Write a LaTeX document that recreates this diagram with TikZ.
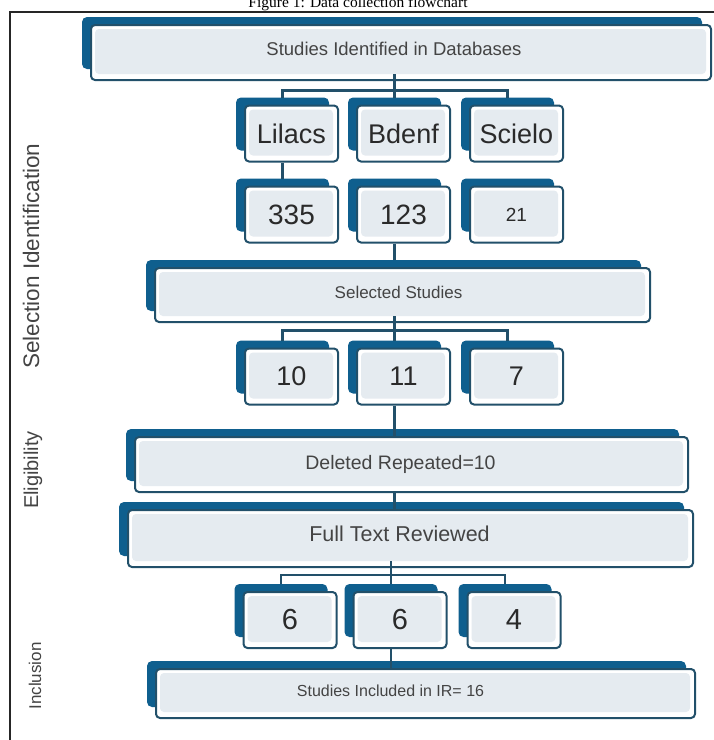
\documentclass[tikz,border=0pt]{standalone}
\usepackage{fontspec}
\setmainfont{Liberation Sans}
\newfontfamily\titlefont{Liberation Serif}
\usetikzlibrary{backgrounds}
\definecolor{backc}{HTML}{0F5F8E}
\definecolor{outl}{HTML}{22506A}
\definecolor{innerc}{HTML}{E5EBF0}
\definecolor{txt}{HTML}{2A2A2A}
\definecolor{ltxt}{HTML}{444444}
\definecolor{connc}{HTML}{22506A}
\newcommand\backof[1]{\fill[backc, rounded corners=5pt] ([shift={(-8,-7)}]#1.north west) rectangle ([shift={(-10,-12)}]#1.south east);}
\begin{document}
\begin{tikzpicture}[x=1pt,y=-1pt,
  front/.style={draw=outl, line width=2pt, fill=white, rounded corners=4pt, inner sep=0pt, text=txt,
    path picture={\fill[innerc] ([shift={(4,4)}]path picture bounding box.north west) rectangle ([shift={(-5,-6)}]path picture bounding box.south east);}},
  small/.style={front, minimum width=93pt, minimum height=56pt},
  fsz/.style={font=\fontsize{#1}{#1}\selectfont},
  lbl/.style={text=ltxt, fsz=#1},
  connector/.style={draw=connc, line width=2.2pt},
  side/.style={rotate=90, text=ltxt, fsz=#1}]
\useasboundingbox (0,0) rectangle (714,740);
\begin{scope}[on background layer]
  \fill[white] (0,0) rectangle (714,740);
\end{scope}
% title (cut at the top edge, as in the reference)
\node[anchor=base, font=\titlefont\fontsize{15.5}{15.5}\selectfont] (title) at (358,7.5) {Figure 1: Data collection flowchart};
% frame
\draw[line width=1.6pt, black!85] (10,740) -- (10,12) -- (714,12);
% side labels
\node[side=22.5] (lsel) at (31,256) {Selection Identification};
\node[side=20] (lelig) at (33,470) {Eligibility};
\node[side=17] (lincl) at (35,676) {Inclusion};
% boxes
\node[front, minimum width=620pt, minimum height=55pt,
  label={[lbl=18.5, xshift=-7pt, yshift=4pt]center:Studies Identified in Databases}] (ident) at (401,52.5) {};
\node[small, fsz=27] (lil) at (291.5,133.5) {Lilacs};
\node[small, fsz=27] (bde) at (403.5,133.5) {Bdenf};
\node[small, fsz=27] (sci) at (516.5,133.5) {Scielo};
\node[small, fsz=28] (n335) at (291.5,214.5) {335};
\node[small, fsz=28] (n123) at (403.5,214.5) {123};
\node[small, fsz=19] (n21) at (516.5,214.5) {21};
\node[front, minimum width=495pt, minimum height=54pt,
  label={[lbl=17, xshift=-4pt, yshift=3pt]center:Selected Studies}] (sel) at (402.5,295) {};
\node[small, fsz=27] (n10) at (291.5,376.5) {10};
\node[small, fsz=27] (n11) at (403.5,376.5) {11};
\node[small, fsz=27] (n7) at (516.5,376.5) {7};
\node[front, minimum width=553pt, minimum height=55pt,
  label={[lbl=19.5, xshift=-11pt, yshift=0pt]center:Deleted Repeated=10}] (del) at (411.5,464.5) {};
\node[front, minimum width=565pt, minimum height=57pt,
  label={[lbl=21.5, xshift=-11pt, yshift=5pt]center:Full Text Reviewed}] (full) at (410.5,538.5) {};
\node[small, fsz=29] (n6a) at (290,620) {6};
\node[small, fsz=29] (n6b) at (400,620) {6};
\node[small, fsz=29] (n4) at (514,620) {4};
\node[front, minimum width=539pt, minimum height=49pt,
  label={[lbl=16, xshift=-35pt, yshift=3pt]center:Studies Included in IR= 16}] (inc) at (425.5,693.5) {};
% back shapes
\begin{scope}[on background layer]
  \foreach \b in {ident,lil,bde,sci,n335,n123,n21,sel,n10,n11,n7,del,full,n6a,n6b,n4,inc} {\backof{\b}}
\end{scope}
% connectors
\draw[connector] ([xshift=-9pt,yshift=7pt]lil.north) -- ++(0,-7) -| ([xshift=-9pt,yshift=7pt]sci.north);
\draw[connector] ([xshift=-9pt,yshift=7pt]bde.north) -- ([xshift=-9pt,yshift=7pt]bde.north |- ident.south);
\draw[connector] ([xshift=-9pt]lil.south) -- ([xshift=-9pt,yshift=7pt]n335.north);
\draw[connector] ([xshift=-9pt]n123.south) -- ([xshift=-9pt,yshift=7pt]n123.south |- sel.north);
\draw[connector] ([xshift=-9pt,yshift=7pt]n10.north) -- ++(0,-10) -| ([xshift=-9pt,yshift=7pt]n7.north);
\draw[connector] ([xshift=-9pt,yshift=7pt]n11.north) -- ([xshift=-9pt,yshift=7pt]n11.north |- sel.south);
\draw[connector] ([xshift=-9pt]n11.south) -- ([xshift=-9pt]n11.south |- del.north);
\draw[connector] ([xshift=-9pt]n11.south |- del.south) -- ([xshift=-9pt]n11.south |- full.north);
\draw[connector] ([xshift=-9pt,yshift=7pt]n6a.north) -- ++(0,-9) -| ([xshift=-9pt,yshift=7pt]n4.north);
\draw[connector] ([xshift=-9pt,yshift=7pt]n6b.north) -- ([xshift=-9pt,yshift=7pt]n6b.north |- full.south);
\draw[connector] ([xshift=-9pt]n6b.south) -- ([xshift=-9pt]n6b.south |- inc.north);
\end{tikzpicture}
\end{document}
